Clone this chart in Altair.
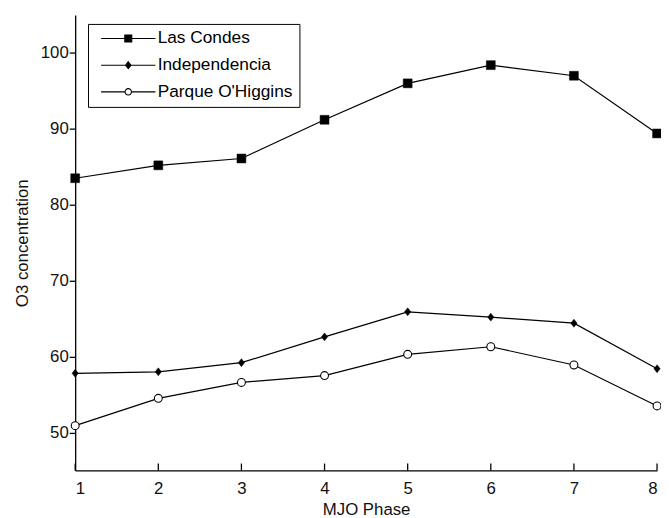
import altair as alt
import pandas as pd

phases = [1, 2, 3, 4, 5, 6, 7, 8]
las_condes = [83.5, 85.2, 86.1, 91.2, 96.0, 98.4, 97.0, 89.4]
independencia = [57.8, 58.0, 59.2, 62.6, 65.9, 65.2, 64.4, 58.4]
parque_ohiggins = [50.9, 54.5, 56.6, 57.5, 60.3, 61.3, 58.9, 53.5]
series_names = ["Las Condes", "Independencia", "Parque O'Higgins"]
y_ticks = [50, 60, 70, 80, 90, 100]

rows = []
for name, vals in zip(series_names, [las_condes, independencia, parque_ohiggins]):
    for p, v in zip(phases, vals):
        rows.append({"phase": p, "o3": v, "series": name})
df = pd.DataFrame(rows)
tick_df = pd.DataFrame({"phase": phases})

FONT = "Liberation Sans"
PLOT_W, PLOT_H = 589, 461
TICK_LEN = 7

x_enc = alt.X(
    "phase:Q",
    scale=alt.Scale(domain=[1, 8], nice=False, zero=False),
    axis=alt.Axis(values=phases, format="d", title="MJO Phase",
                  ticks=False, tickSize=0, labelPadding=10, titlePadding=6),
)
y_enc = alt.Y(
    "o3:Q",
    scale=alt.Scale(domain=[45, 105], nice=False, zero=False),
    axis=alt.Axis(values=y_ticks, title="O3 concentration",
                  tickSize=6, labelPadding=1, titlePadding=9),
)

base = alt.Chart(df)

lines = base.mark_line(color="black", strokeWidth=1.2).encode(
    x=x_enc, y=y_enc, detail="series:N"
)

sq = base.transform_filter(alt.datum.series == series_names[0]).mark_point(
    shape="square", filled=True, fill="black", stroke="black", strokeWidth=0.5,
    size=81, opacity=1
).encode(x=x_enc, y=y_enc)

di = base.transform_filter(alt.datum.series == series_names[1]).mark_point(
    shape="M 0 -1.15 L 0.9 0 L 0 1.15 L -0.9 0 Z", filled=True, fill="black",
    stroke="black", strokeWidth=0.5, size=49, opacity=1
).encode(x=x_enc, y=y_enc)

ci = base.transform_filter(alt.datum.series == series_names[2]).mark_point(
    shape="circle", filled=True, fill="white", stroke="black", strokeWidth=1.1,
    size=64, opacity=1
).encode(x=x_enc, y=y_enc)

# inward x-axis ticks (MATLAB style)
x_ticks = alt.Chart(tick_df).mark_rule(color="#000000", strokeWidth=1.3, opacity=1).encode(
    x=alt.X("phase:Q"), y=alt.value(PLOT_H), y2=alt.value(PLOT_H - TICK_LEN)
)

legend_paths = [
    "M -5.5 0 H -0.7 M 0.7 0 H 5.5 M -0.7 -0.7 H 0.7 V 0.7 H -0.7 Z",
    "M -5.5 0 H -0.55 M 0.55 0 H 5.5 M 0 -0.7 L 0.55 0 L 0 0.7 L -0.55 0 Z",
    "M -5.5 0 H -0.65 M 0.65 0 H 5.5 M 0.65 0 A 0.65 0.65 0 1 1 -0.65 0 A 0.65 0.65 0 1 1 0.65 0 Z",
]

leg = alt.Legend(
    title=None, orient="none", legendX=13, legendY=9,
    strokeColor="black", fillColor="white", padding=6,
    symbolOffset=26, labelOffset=21, rowPadding=8, symbolSize=100,
    symbolStrokeColor="black", symbolStrokeWidth=1.1, symbolOpacity=1,
    labelFontSize=17.5, labelFont=FONT, labelColor="black",
)

legend_layer = base.transform_filter("false").mark_point(
    filled=True, opacity=1, strokeWidth=1.1
).encode(
    x=x_enc, y=y_enc,
    shape=alt.Shape("series:N", scale=alt.Scale(domain=series_names, range=legend_paths), legend=leg),
    fill=alt.Fill("series:N", scale=alt.Scale(domain=series_names, range=["black", "black", "white"]), legend=leg),
    stroke=alt.Stroke("series:N", scale=alt.Scale(domain=series_names, range=["black", "black", "black"]), legend=leg),
)

chart = alt.layer(lines, x_ticks, sq, di, ci, legend_layer).properties(
    width=PLOT_W, height=PLOT_H,
    autosize="none",
    padding={"left": 68, "top": 4, "right": 4, "bottom": 45},
    background="white",
).configure_view(stroke=None).configure_axis(
    grid=False, domainColor="black", domainWidth=1.3, tickColor="black", tickWidth=1.3,
    labelFont=FONT, labelFontSize=17, labelColor="#111111",
    titleFont=FONT, titleFontSize=17, titleFontWeight="normal", titleColor="#111111",
)

chart.save("out.html", embed_options={"renderer": "svg", "actions": False})
